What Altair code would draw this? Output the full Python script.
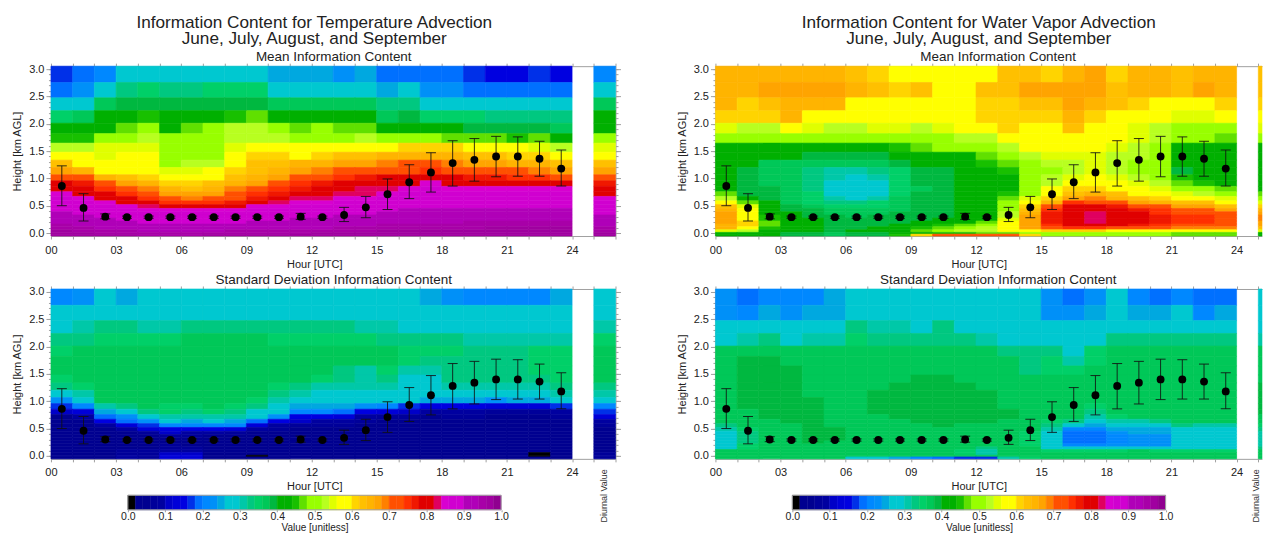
import altair as alt
import pandas as pd

FONT = "Liberation Sans"
TXT = "#222222"
GR = "#a0a0a0"

BOUNDS = [3.055,2.756,2.476,2.24,2.01,1.82,1.646,1.48,1.335,1.2,1.067,.957,.854,.756,.67,.59,.52,.45,.39,.33,.274,.22,.165,.116,.06,.012,-.02,-.055]

COLORS = ["#000000","#000090","#000090","#00009a","#0000a0","#0000c8","#0000d8","#0000e0","#0030e8","#0070ff",
          "#0088ff","#0090f8","#00a8e0","#00c8d0","#00c8d0","#00c8a8","#00c880","#00d068","#00c858","#00b840",
          "#00b000","#00b000","#18c000","#60e000","#98ff00","#98ff00","#b8ff20","#e0ff00","#ffff00","#ffff00",
          "#ffd400","#ffc000","#ffb400","#ffa400","#ff8000","#ff5000","#ff5000","#ff3000","#f01800","#e00000",
          "#e00000","#e00060","#d800d0","#d000d0","#d000d0","#b000b8","#b000b8","#a800a8","#a000a0","#900090"]
THRESH = list(range(2, 100, 2))

TEMP_MEAN = [
[17,19,21,27,28,28,26,28,28,28,24,25,25,22,24,19,19,19,19,17,15,15,17,15,21],
[19,23,28,32,34,33,33,35,34,34,28,28,28,28,28,25,27,22,22,19,19,19,19,19,28],
[28,29,36,39,39,39,39,38,39,39,36,36,37,37,37,32,33,28,28,28,28,26,27,27,36],
[35,36,41,41,45,41,42,41,44,46,41,41,41,41,41,36,38,34,34,34,33,32,33,33,40],
[40,40,42,47,49,42,46,48,52,52,50,47,50,47,47,41,41,41,41,39,39,38,39,37,41],
[45,44,49,51,52,49,51,51,52,53,52,51,51,51,52,49,49,49,47,46,46,45,47,43,49],
[53,52,54,54,54,51,51,51,55,59,59,58,59,59,59,58,60,61,60,59,56,56,55,52,55],
[57,56,55,56,56,51,51,51,59,60,60,59,60,63,63,65,65,65,64,62,62,60,60,59,59],
[62,59,56,57,58,51,52,52,59,62,62,64,65,66,67,69,70,70,69,67,66,65,64,63,63],
[66,65,59,59,59,54,55,56,60,63,64,66,68,70,72,73,73,74,72,71,71,70,69,67,66],
[72,71,64,62,60,58,58,59,62,65,67,70,72,75,77,78,78,79,78,77,76,75,74,72,72],
[78,77,70,67,65,61,61,62,65,67,71,74,76,79,80,80,81,85,81,80,80,80,79,78,76],
[80,79,75,71,68,64,63,64,68,71,74,77,78,80,82,82,85,86,85,85,85,85,85,85,79],
[85,81,78,75,71,67,66,67,70,74,77,80,81,83,83,85,86,87,86,86,86,86,86,86,80],
[86,85,80,78,75,70,69,70,73,77,79,83,83,85,85,86,87,88,87,87,87,87,87,87,85],
[87,86,85,80,78,74,74,74,77,80,83,85,85,86,86,87,88,89,88,88,88,88,88,88,86],
[88,87,86,85,83,79,78,78,80,85,85,86,86,87,87,88,89,89,89,89,89,89,89,89,87],
[89,88,87,86,85,85,85,85,85,86,86,87,87,88,88,89,90,90,90,90,90,90,90,90,88],
[90,89,88,87,86,86,86,86,86,87,87,88,88,89,89,90,91,91,91,91,91,91,91,91,89],
[91,90,89,88,87,87,87,87,87,88,88,89,89,90,90,91,91,91,92,92,92,92,92,92,90],
[92,91,90,89,88,88,88,88,88,89,89,90,90,91,91,92,92,92,92,93,93,93,93,93,91],
[93,92,91,90,89,89,89,89,89,90,90,91,91,92,92,93,93,93,93,94,94,94,94,94,92],
[94,93,92,91,90,90,90,90,91,91,91,92,92,93,93,94,94,94,94,95,95,95,95,95,93],
[95,94,93,92,92,92,92,92,92,93,93,93,93,94,94,95,95,95,95,95,96,96,96,96,94],
[96,95,94,94,93,93,93,93,94,94,94,94,95,95,95,96,96,96,96,96,96,96,96,96,95],
[97,96,95,95,94,94,94,94,95,95,95,95,96,96,96,97,97,97,97,97,97,97,97,97,96],
[97,97,96,96,95,95,95,96,96,96,96,96,97,97,97,97,97,97,97,97,97,97,97,97,97],
]

WV_MEAN = [
[64,65,65,65,65,64,62,60,59,59,59,59,59,62,63,61,65,66,60,64,64,63,65,65,62],
[65,64,66,67,66,66,64,62,60,62,59,59,62,63,66,66,66,66,62,65,65,62,66,64,63],
[64,60,62,65,65,64,59,59,59,59,59,59,61,61,63,62,66,64,62,61,59,59,59,60,61],
[61,60,60,64,59,59,59,59,58,58,57,58,60,60,61,61,65,60,59,58,56,55,55,56,59],
[54,53,53,59,55,53,53,54,54,53,55,57,58,61,59,59,62,59,57,55,52,51,51,50,54],
[50,48,48,49,50,50,50,50,50,50,51,52,53,59,59,59,59,59,57,54,52,50,49,47,51],
[41,41,41,41,41,41,41,41,45,47,49,50,51,53,56,57,57,57,54,53,51,41,41,41,42],
[41,41,40,40,39,38,38,38,40,41,41,41,47,50,53,54,55,55,53,52,50,41,41,42,41],
[40,40,37,37,37,36,36,37,38,40,41,41,44,47,51,52,53,54,53,51,49,41,41,41,41],
[41,39,37,36,33,31,30,32,35,38,39,40,41,45,50,51,53,55,53,51,49,39,40,42,41],
[41,39,37,36,33,30,29,30,35,38,38,40,41,43,50,52,55,57,55,53,50,44,42,42,41],
[41,39,37,36,33,29,28,29,35,38,38,40,41,42,49,53,57,59,57,55,52,47,45,43,41],
[41,39,38,36,33,29,28,29,35,37,38,40,41,43,50,56,60,60,59,57,54,50,49,47,42],
[47,39,38,36,34,29,28,29,35,38,39,40,41,45,51,59,62,64,62,59,57,55,53,51,46],
[53,40,38,36,34,30,29,30,36,38,39,40,41,47,54,60,66,68,65,63,60,59,56,54,50],
[57,47,40,37,35,33,33,34,37,38,39,40,41,48,57,64,74,72,70,67,64,62,62,59,55],
[62,54,41,38,37,35,35,35,37,38,39,40,41,50,60,71,78,78,76,72,70,67,66,62,60],
[65,58,42,39,38,36,36,36,37,38,39,40,41,51,63,74,81,81,79,76,74,70,70,66,64],
[67,59,43,40,39,37,37,37,38,38,39,40,41,52,65,76,81,82,80,78,75,73,73,70,66],
[67,59,44,40,39,38,37,38,38,38,39,40,41,53,67,76,81,82,81,78,76,74,74,71,68],
[66,59,45,41,40,38,38,38,39,39,40,41,43,54,67,76,81,82,81,79,76,74,74,72,68],
[66,60,46,41,40,39,38,39,39,40,41,42,47,56,67,76,81,82,80,78,76,74,74,72,67],
[65,60,46,41,40,39,38,39,40,41,44,46,49,58,66,75,79,80,78,76,75,73,73,71,66],
[64,59,45,41,41,39,39,40,41,45,47,50,52,59,66,72,74,74,72,71,70,69,69,68,62],
[54,52,43,41,40,38,40,41,43,47,49,52,53,56,58,60,61,60,59,59,58,57,58,58,55],
[42,41,40,38,38,36,38,39,40,42,44,45,46,47,48,50,50,50,50,49,48,47,47,46,42],
[41,41,40,38,38,36,38,39,45,60,70,72,72,72,60,50,50,50,50,49,48,47,47,46,42],
]

TEMP_STD = [
[21,23,26,25,28,28,28,28,28,28,28,28,28,28,28,28,27,25,23,21,20,20,21,24,27],
[28,28,28,29,29,29,29,29,29,29,29,29,29,29,29,29,29,28,28,28,26,26,27,27,28],
[29,31,32,32,31,31,32,32,33,32,33,33,32,32,30,30,29,29,28,28,28,28,28,28,31],
[32,33,35,35,34,35,36,36,36,36,35,35,35,34,34,33,33,33,32,31,31,30,31,31,34],
[35,36,36,36,36,36,37,37,37,37,37,37,37,37,36,36,35,34,34,33,33,33,34,34,36],
[36,37,37,37,37,37,37,37,37,37,37,37,37,37,36,36,35,33,33,33,33,33,34,34,37],
[36,37,37,37,37,37,37,37,37,37,37,37,36,33,31,34,31,30,33,33,33,33,34,34,37],
[35,36,37,37,37,37,37,37,37,37,37,36,34,32,30,33,29,29,32,33,33,32,33,34,36],
[33,34,37,37,37,37,37,37,37,37,34,32,31,30,30,31,28,29,30,31,31,31,31,32,33],
[28,30,37,37,37,37,37,37,37,36,33,31,29,29,29,29,28,28,29,29,29,29,29,30,30],
[22,26,36,37,37,37,37,37,37,35,31,29,28,28,28,28,26,24,25,24,23,24,24,26,27],
[16,20,30,33,36,35,35,36,35,33,29,25,25,24,22,20,17,14,15,14,12,13,13,17,20],
[10,12,24,29,32,34,33,34,33,29,28,21,20,19,15,12,10,8,9,9,7,7,7,9,16],
[5,8,19,22,29,31,31,30,30,28,23,15,14,12,9,7,6,5,6,6,5,5,5,6,12],
[4,5,14,19,22,26,25,27,25,18,14,10,9,8,6,5,5,4,5,5,4,5,4,5,8],
[3,4,8,13,17,20,20,21,20,12,9,7,6,6,5,4,4,3,4,4,3,5,3,4,6],
[3,4,5,8,12,15,14,14,13,8,7,5,5,5,4,3,3,3,3,3,3,5,3,3,5],
[3,3,4,5,7,10,9,8,7,5,5,4,4,4,3,3,3,3,3,3,3,5,3,3,5],
[3,3,3,4,5,7,6,5,5,4,4,3,3,3,3,3,3,3,3,3,3,5,3,3,5],
[3,3,3,3,4,5,5,4,4,3,3,3,3,3,3,3,3,3,3,3,3,5,3,3,5],
[3,3,3,3,4,5,5,3,3,3,3,3,3,3,3,3,3,3,3,3,3,5,3,3,5],
[3,3,3,4,4,6,5,3,3,3,3,3,3,3,3,3,3,3,3,3,3,5,3,3,5],
[5,3,3,5,5,7,6,3,3,3,3,3,3,3,3,3,3,3,3,3,3,5,3,3,5],
[5,5,5,6,6,9,8,4,3,3,3,3,3,3,3,3,3,3,3,3,3,3,3,3,5],
[5,5,5,7,7,11,11,4,4,3,3,3,3,3,3,3,3,3,3,3,3,4,1,3,7],
[5,5,5,9,7,12,12,5,4,1,5,5,5,3,3,3,3,3,3,3,4,4,1,3,7],
[5,5,5,9,7,12,12,5,5,5,5,5,5,5,3,3,3,3,3,3,5,5,5,3,7],
]

WV_STD = [
[22,18,21,20,20,25,28,28,28,28,28,28,28,26,26,23,19,22,28,21,19,21,18,19,26],
[23,21,25,22,24,24,28,28,28,28,28,28,28,28,26,23,22,25,28,25,24,28,20,24,27],
[28,29,29,28,28,28,32,31,31,27,32,29,28,28,28,28,28,28,29,29,29,29,29,28,29],
[28,31,32,29,31,31,35,33,33,32,32,32,30,29,29,28,29,28,32,33,33,33,33,32,31],
[37,37,37,37,37,37,37,37,36,37,37,37,37,33,32,33,29,34,37,37,37,37,37,37,36],
[37,38,38,37,37,37,37,37,37,37,37,37,37,36,33,34,31,35,37,37,37,37,37,37,37],
[37,38,39,38,37,37,37,37,37,37,37,37,37,37,32,34,35,36,37,37,37,37,37,37,37],
[37,38,39,38,37,37,37,37,37,38,38,37,37,37,37,36,36,37,37,37,37,37,37,37,37],
[37,38,39,38,37,37,37,37,38,39,38,38,37,37,37,37,37,37,37,37,37,37,37,37,38],
[37,38,39,38,37,37,37,38,39,39,39,38,38,37,37,37,37,37,37,37,37,37,37,37,38],
[37,38,39,38,38,37,37,38,39,39,39,39,38,37,37,37,37,37,37,37,37,37,37,37,39],
[37,38,38,38,38,37,37,38,39,39,39,39,39,37,37,37,37,35,37,37,37,37,37,37,39],
[37,37,38,38,38,37,37,38,38,39,39,38,39,38,37,37,37,33,36,37,37,37,37,37,38],
[37,37,38,38,38,37,37,37,38,39,39,38,39,38,37,37,36,30,35,36,37,37,37,37,37],
[36,37,37,38,38,37,37,37,37,38,38,38,38,37,37,35,33,27,31,31,33,36,36,36,36],
[33,36,37,37,38,37,37,37,37,37,38,37,37,37,36,33,27,25,27,28,28,33,30,31,35],
[31,35,37,37,38,38,37,37,37,37,37,37,37,37,37,30,21,21,24,25,25,29,28,29,33],
[29,33,37,37,38,38,37,37,37,37,37,37,37,37,35,29,19,19,22,24,24,28,27,28,31],
[28,33,37,37,38,38,37,37,37,37,37,37,37,37,35,28,19,19,21,23,23,27,27,28,30],
[28,33,37,37,38,38,37,37,37,37,37,37,37,37,34,28,19,19,21,22,23,27,27,28,30],
[28,33,37,37,38,37,37,37,37,37,37,37,37,37,34,28,19,19,21,22,23,26,26,27,30],
[28,34,37,37,37,37,37,37,37,37,37,37,37,37,34,28,20,20,22,22,22,26,26,27,30],
[28,35,37,37,37,37,37,37,37,37,37,36,33,37,36,29,26,26,27,27,27,28,28,29,32],
[36,36,37,37,37,37,37,37,37,37,37,35,31,36,36,35,35,35,35,36,35,35,35,35,36],
[36,36,37,37,37,37,37,37,37,37,37,34,31,36,36,36,36,36,36,36,36,36,36,36,36],
[36,36,36,36,36,36,36,36,36,36,36,36,36,36,36,36,36,36,36,36,36,36,36,36,36],
[36,36,36,36,36,36,28,26,24,20,18,16,16,30,34,36,36,36,36,36,36,36,36,36,36],
]

HOURS = [h + 0.5 for h in range(24)]
MEAN = [.86,.46,.30,.29,.29,.29,.29,.29,.29,.29,.29,.30,.29,.33,.47,.71,.93,1.11,1.28,1.34,1.40,1.40,1.36,1.18]
LOW  = [.50,.22,.26,.27,.27,.27,.27,.27,.27,.27,.27,.25,.27,.21,.28,.43,.63,.75,.86,.95,1.03,1.04,1.04,.86]
HIGH = [1.23,.72,.35,.31,.31,.31,.31,.31,.31,.31,.31,.36,.31,.47,.67,.99,1.25,1.47,1.69,1.73,1.77,1.76,1.68,1.52]

Y_MAJOR = [0, .5, 1, 1.5, 2, 2.5, 3]
Y_MINOR = [round(i * .1, 1) for i in range(31)]
CB_TICKS = [round(i * .1, 1) for i in range(11)]

PX_PER_HOUR = 21.73
H = 170
ys = alt.Scale(domain=[-0.055, 3.055], nice=False, zero=False)
cs = alt.Scale(type="threshold", domain=THRESH, range=COLORS)

def grid(rows):
    out = []
    for r, row in enumerate(rows):
        assert len(row) == 25
        for c, v in enumerate(row):
            x0 = c if c < 24 else 25
            out.append(dict(x0=x0, x1=x0 + 1, y0=BOUNDS[r + 1], y1=BOUNDS[r], v=v))
    return pd.DataFrame(out)

EB = pd.DataFrame(dict(h=HOURS, m=MEAN, lo=LOW, hi=HIGH))

def axis_common(**kw):
    d = dict(grid=False, domainColor=GR, tickColor=GR, domainWidth=1, tickWidth=1, labelFlush=False,
             labelFont=FONT, labelFontSize=11, labelColor=TXT, titleFont=FONT,
             titleFontSize=11, titleColor=TXT, titleFontWeight="normal")
    d.update(kw)
    return alt.Axis(**d)

LABEL = "datum.value % 3 == 0 && datum.value <= 24 ? (datum.value < 10 ? '0' : '') + datum.value : ''"

def panel(rows, sub, xmax, titles=None):
    W = round(xmax * PX_PER_HOUR)
    xs = alt.Scale(domain=[0, xmax], nice=False, zero=False, clamp=True)
    X_TICKS = [t for t in range(27) if t <= xmax]
    bottom = axis_common(orient="bottom", values=X_TICKS, tickSize=3, labelExpr=LABEL, labelOverlap=False,
                         labelPadding=5, title="Hour [UTC]", titleX=263.5, titlePadding=3)
    top = axis_common(orient="top", values=X_TICKS, tickSize=3, labels=False, title=None)
    left = axis_common(orient="left", values=Y_MAJOR, tickSize=5, format=".1f", labelPadding=2,
                       title="Height [km AGL]", titlePadding=6)
    left2 = axis_common(orient="left", values=Y_MINOR, tickSize=2.5, labels=False, title=None, domain=False)
    if xmax >= 26:
        right = axis_common(orient="right", values=Y_MAJOR, tickSize=5, labels=False, title=None)
        right2 = axis_common(orient="right", values=Y_MINOR, tickSize=2.5, labels=False, title=None, domain=False)
    else:
        right = None
        right2 = None

    heat = alt.Chart(grid(rows)).mark_rect(strokeWidth=0.6).encode(
        x=alt.X("x0:Q", scale=xs, axis=bottom), x2="x1:Q",
        y=alt.Y("y0:Q", scale=ys, axis=left), y2="y1:Q",
        color=alt.Color("v:Q", scale=cs, legend=None),
        stroke=alt.Stroke("v:Q", scale=cs, legend=None))
    rule = alt.Chart(EB).mark_rule(color="#111111", strokeWidth=1, opacity=.85).encode(
        x=alt.X("h:Q", scale=xs, axis=top),
        y=alt.Y("lo:Q", scale=ys, axis=right), y2="hi:Q")
    cap_lo = alt.Chart(EB).mark_tick(color="#111111", orient="horizontal", size=10, thickness=1, opacity=.85).encode(
        x=alt.X("h:Q", scale=xs, axis=None),
        y=alt.Y("lo:Q", scale=ys, axis=left2))
    cap_hi = alt.Chart(EB).mark_tick(color="#111111", orient="horizontal", size=10, thickness=1, opacity=.85).encode(
        x=alt.X("h:Q", scale=xs, axis=None),
        y=alt.Y("hi:Q", scale=ys, axis=right2))
    pts = alt.Chart(EB).mark_circle(color="#000000", size=62, opacity=1).encode(
        x=alt.X("h:Q", scale=xs, axis=None),
        y=alt.Y("m:Q", scale=ys, axis=None))
    layers = [heat, rule, cap_lo, cap_hi, pts]
    sub_df = pd.DataFrame(dict(t=[sub]))
    layers.append(alt.Chart(sub_df).mark_text(font=FONT, fontSize=13.5, color=TXT, baseline="middle").encode(
        text="t:N", x=alt.value(283), y=alt.value(-9)))
    if titles:
        layers.append(alt.Chart(pd.DataFrame(dict(t=[0]))).mark_text(
            text=titles, lineHeight=16, font=FONT, fontSize=17.2, color=TXT, baseline="middle").encode(
            x=alt.value(263.5), y=alt.value(-43.5)))
    return alt.layer(*layers).resolve_axis(x="independent", y="independent").properties(width=W, height=H)

def colorbar(xmax, dx):
    W = round(xmax * PX_PER_HOUR)
    bins = pd.DataFrame(dict(a=[i * .02 for i in range(50)], b=[(i + 1) * .02 for i in range(50)],
                             v=[i * 2 + 1 for i in range(50)]))
    cbx = alt.Scale(domain=[0, 1], range=[77, 450.5], nice=False, zero=False)
    ax = axis_common(orient="bottom", values=CB_TICKS, format=".1f", tickSize=2, labelPadding=0, offset=-3,
                     labelFontSize=10.5, titleFontSize=10, domain=False,
                     title="Value [unitless]", titlePadding=0, labelOverlap=False)
    bar = alt.Chart(bins).mark_rect(strokeWidth=0.5).encode(
        x=alt.X("a:Q", scale=cbx, axis=ax), x2="b:Q",
        y=alt.value(-16.5), y2=alt.value(-2),
        color=alt.Color("v:Q", scale=cs, legend=None),
        stroke=alt.Stroke("v:Q", scale=cs, legend=None))
    frame = alt.Chart(pd.DataFrame(dict(a=[0], b=[1]))).mark_rect(fill=None, stroke=GR, strokeWidth=1).encode(
        x=alt.X("a:Q", scale=cbx, axis=None), x2="b:Q",
        y=alt.value(-16.5), y2=alt.value(-2))
    diurnal = alt.Chart(pd.DataFrame(dict(t=["Diurnal Value"]))).mark_text(
        font=FONT, fontSize=9, color="#333333", angle=270, baseline="middle").encode(
        text="t:N", x=alt.value(dx), y=alt.value(-16))
    return alt.layer(bar, frame, diurnal).resolve_axis(x="independent").properties(width=W, height=1)

XL = 26
XR = 25.17
tl = panel(TEMP_MEAN, "Mean Information Content", XL,
           ["Information Content for Temperature Advection", "June, July, August, and September"])
tr = panel(WV_MEAN, "Mean Information Content", XR,
           ["Information Content for Water Vapor Advection", "June, July, August, and September"])
bl = panel(TEMP_STD, "Standard Deviation Information Content", XL)
br = panel(WV_STD, "Standard Deviation Information Content", XR)

chart = alt.concat(tl, tr, bl, br, colorbar(XL, 553), colorbar(XR, 541), columns=2, bounds="flush",
                   spacing=alt.RowColnumber(row=53, column=100)).properties(
    padding={"left": 3, "top": 5, "right": 0, "bottom": 0}, background="white"
).configure_view(stroke=None)

chart.save("out.html", embed_options={"renderer": "svg", "actions": False})
